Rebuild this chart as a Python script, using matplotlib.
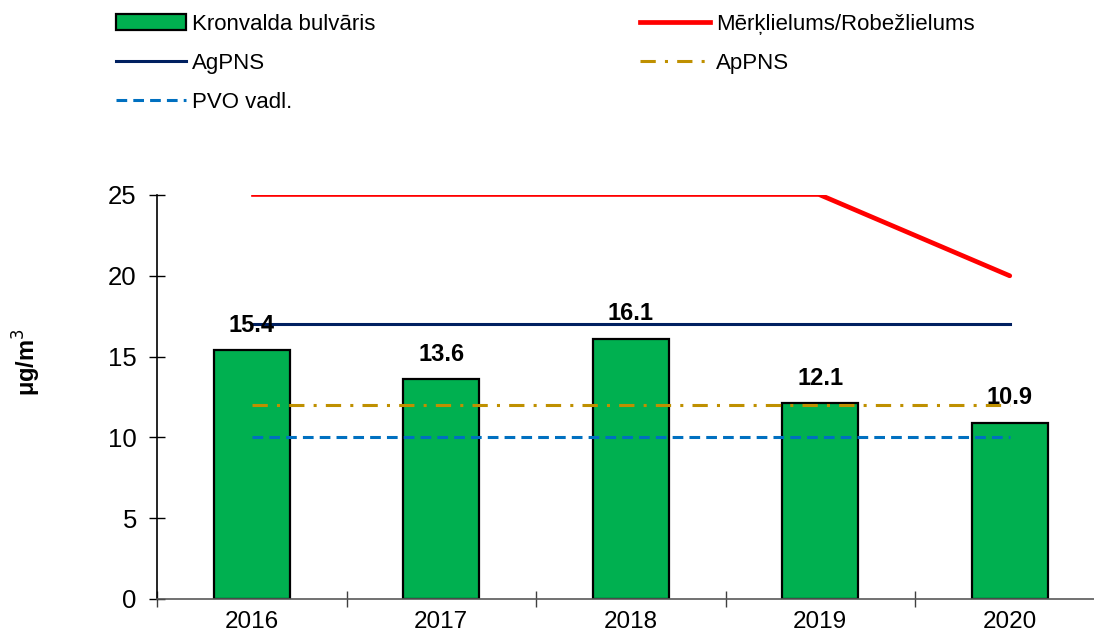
import numpy as np
import matplotlib
matplotlib.use('Agg')
import matplotlib.pyplot as plt
from matplotlib.patches import Patch
from matplotlib.lines import Line2D

plt.rcParams['font.family'] = ['Liberation Sans', 'DejaVu Sans']

years = ['2016', '2017', '2018', '2019', '2020']
kronvalda = [15.4, 13.6, 16.1, 12.1, 10.9]
merkl = [25, 25, 25, 25, 20]
agpns = [17, 17, 17, 17, 17]
appns = [12, 12, 12, 12, 12]
pvo = [10, 10, 10, 10, 10]

green = '#00B050'
red = '#FF0000'
navy = '#002060'
gold = '#BF9000'
blue = '#0070C0'

fig = plt.figure(figsize=(10.94, 6.41), dpi=100)
ax = fig.add_axes([157 / 1094, 42 / 641, 947.5 / 1094, 404 / 641])

x = np.arange(len(years))
ax.bar(x, kronvalda, width=0.4, color=green, edgecolor='black', linewidth=1.6, zorder=2)

# red line: thin up to 2019, thick for the last segment
ax.plot(x[:4], merkl[:4], color=red, lw=1.9, zorder=3)
ax.plot(x[3:], merkl[3:], color=red, lw=3.4, zorder=3, solid_capstyle='round')
ax.plot(x, agpns, color=navy, lw=2.2, zorder=3)
ax.plot(x, appns, color=gold, lw=2.2, zorder=3, dashes=(5, 3, 1, 3))
ax.plot(x, pvo, color=blue, lw=2.2, zorder=3, dashes=(3.5, 2))

for xi, v in zip(x, kronvalda):
    ax.annotate(f'{v:.1f}', (xi, v), xytext=(0, 18), textcoords='offset points',
                ha='center', va='center', fontsize=17, fontweight='bold', zorder=5)

ax.set_xlim(-0.5, 4.5)
ax.set_ylim(0, 25)
ax.set_yticks([0, 5, 10, 15, 20, 25])
ax.set_xticks(x)
ax.set_xticklabels(years)
ax.set_xticks(np.arange(-0.5, 5, 1), minor=True)
ax.tick_params(axis='x', which='major', length=0, pad=9, labelsize=17.5)
ax.tick_params(axis='x', which='minor', direction='inout', length=12, width=1, color='#404040')
ax.tick_params(axis='y', direction='inout', length=11, width=1, pad=9, labelsize=18.5)

for s in ['top', 'right']:
    ax.spines[s].set_visible(False)
ax.spines['bottom'].set_color('#595959')
ax.spines['bottom'].set_linewidth(1.2)
ax.spines['left'].set_linewidth(1.2)

fig.text(27 / 1094, 1 - 362 / 641, 'μg/m$^3$', rotation=90, ha='center', va='center',
         fontsize=17, fontweight='bold')

handles = [
    Patch(facecolor=green, edgecolor='black', linewidth=1.6),
    Line2D([], [], color=navy, lw=2.2),
    Line2D([], [], color=blue, lw=2.2, dashes=(3.5, 2)),
    Line2D([], [], color=red, lw=3.4),
    Line2D([], [], color=gold, lw=2.2, dashes=(5, 3, 1, 3)),
]
labels = ['Kronvalda bulvāris', 'AgPNS', 'PVO vadl.', 'Mērķlielums/Robežlielums', 'ApPNS']
fig.legend(handles, labels, loc='upper left', bbox_to_anchor=(116 / 1094, 1 - 14 / 641),
           ncol=2, frameon=False, fontsize=16, handlelength=3.15, handleheight=0.7,
           handletextpad=0.27, labelspacing=0.81, columnspacing=11.9, borderpad=0,
           borderaxespad=0)

fig.savefig('out.png', dpi=100)
